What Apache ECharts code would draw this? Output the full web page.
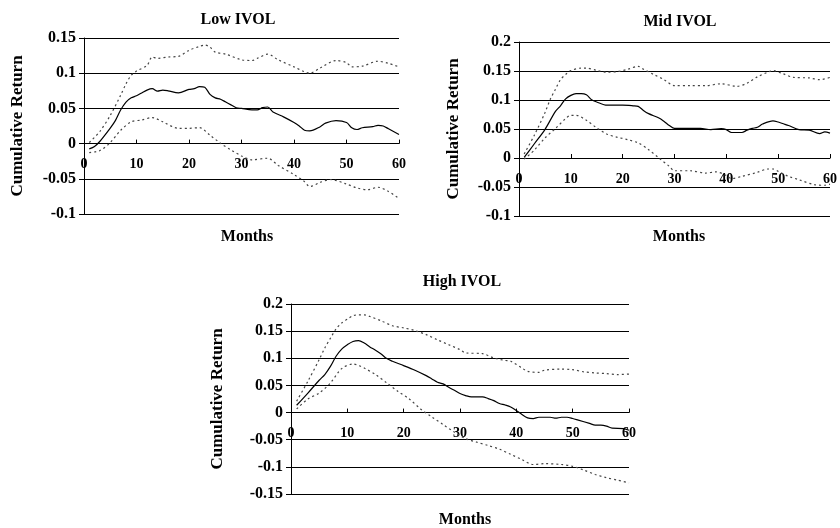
<!DOCTYPE html>
<html>
<head>
<meta charset="utf-8">
<script src="https://cdn.jsdelivr.net/npm/echarts@6/dist/echarts.min.js"></script>
<style>
  html, body { margin: 0; padding: 0; background: #fff; }
  #chart { width: 840px; height: 528px; }
</style>
</head>
<body>
<div id="chart"></div>
<script>
// cumulative return paths, [month, value]
const lowMid = [[1,-0.0075],[2,-0.004],[3,0.003],[5,0.022],[6,0.033],[7,0.048],[8,0.059],[9,0.065],[10,0.068],[11,0.072],[12,0.076],[13,0.078],[14,0.0745],[15,0.076],[16,0.075],[18,0.072],[20,0.077],[21,0.078],[22,0.081],[23,0.080],[24,0.070],[25,0.065],[26,0.063],[27,0.059],[28,0.055],[29,0.051],[30,0.050],[32,0.048],[33,0.048],[34,0.051],[35,0.052],[36,0.045],[38,0.038],[40,0.030],[41,0.025],[42,0.019],[43,0.018],[45,0.024],[46,0.029],[48,0.0325],[50,0.030],[51,0.0225],[52,0.020],[53,0.0225],[55,0.024],[56,0.026],[57,0.025],[58,0.021],[60,0.013]];
const lowUp = [[1,0.0015],[3,0.017],[5,0.040],[7,0.069],[8,0.085],[9,0.097],[10,0.103],[12,0.111],[13,0.123],[14,0.121],[16,0.123],[18,0.124],[20,0.1325],[22,0.138],[23,0.140],[24,0.137],[25,0.130],[27,0.127],[30,0.119],[32,0.118],[33,0.121],[35,0.127],[37,0.119],[40,0.109],[42,0.102],[43,0.100],[45,0.1075],[48,0.118],[50,0.115],[51,0.109],[53,0.110],[56,0.117],[58,0.114],[60,0.109]];
const lowDown = [[1,-0.0127],[3,-0.010],[5,0.0015],[7,0.019],[9,0.031],[11,0.0335],[13,0.037],[15,0.031],[18,0.0217],[20,0.0217],[22,0.0226],[24,0.012],[26,0.0005],[28,-0.009],[30,-0.0175],[32,-0.023],[35,-0.0208],[37,-0.031],[40,-0.044],[42,-0.054],[43,-0.061],[45,-0.055],[47,-0.051],[50,-0.0575],[52,-0.063],[54,-0.0655],[56,-0.062],[58,-0.068],[60,-0.078]];

const midMid = [[1,0.001],[3,0.025],[5,0.049],[7,0.080],[8,0.090],[9,0.102],[10,0.108],[11,0.111],[12,0.111],[13,0.109],[14,0.1006],[15,0.0966],[17,0.091],[20,0.091],[22,0.090],[23,0.089],[24,0.082],[25,0.0765],[27,0.069],[28,0.063],[29,0.056],[30,0.051],[32,0.051],[35,0.051],[37,0.049],[39,0.0506],[40,0.049],[41,0.044],[43,0.044],[44,0.048],[45,0.051],[46,0.053],[47,0.0586],[49,0.064],[50,0.062],[51,0.059],[52,0.056],[54,0.049],[56,0.048],[58,0.042],[59,0.045],[60,0.043]];
const midUp = [[1,0.007],[3,0.040],[5,0.078],[6,0.1006],[7,0.118],[8,0.135],[9,0.144],[10,0.1506],[12,0.155],[13,0.155],[15,0.151],[17,0.148],[19,0.149],[21,0.153],[23,0.158],[24,0.153],[26,0.144],[28,0.135],[30,0.1247],[33,0.1247],[36,0.1247],[39,0.128],[42,0.1236],[44,0.129],[46,0.140],[48,0.148],[49,0.1506],[51,0.145],[53,0.139],[56,0.138],[58,0.135],[60,0.139]];
const midDown = [[1,-0.002],[3,0.014],[5,0.0345],[7,0.0506],[9,0.068],[10,0.0736],[11,0.0736],[13,0.065],[15,0.052],[17,0.041],[19,0.0356],[21,0.0316],[23,0.026],[25,0.0144],[27,0],[29,-0.0144],[30,-0.022],[33,-0.022],[36,-0.026],[38,-0.024],[40,-0.030],[41,-0.0356],[43,-0.0316],[46,-0.0247],[48,-0.019],[49,-0.019],[50,-0.023],[52,-0.0316],[54,-0.0374],[57,-0.046],[59,-0.047],[60,-0.045]];

const highMid = [[1,0.0135],[3,0.036],[5,0.0595],[6,0.070],[7,0.085],[8,0.1037],[9,0.117],[10,0.125],[11,0.131],[12,0.1325],[13,0.128],[14,0.121],[15,0.115],[16,0.108],[17,0.0994],[18,0.0945],[20,0.0865],[22,0.078],[24,0.068],[25,0.062],[26,0.0558],[27,0.0528],[28,0.0466],[29,0.041],[30,0.035],[31,0.0313],[32,0.0288],[34,0.0288],[35,0.0258],[36,0.022],[37,0.0166],[38,0.014],[39,0.0104],[40,0.0037],[41,-0.0037],[42,-0.0098],[43,-0.011],[44,-0.0086],[46,-0.0086],[47,-0.0104],[48,-0.0086],[49,-0.0086],[50,-0.011],[51,-0.014],[53,-0.020],[54,-0.0233],[55,-0.0233],[56,-0.025],[57,-0.0288],[59,-0.0294],[60,-0.0325]];
const highUp = [[1,0.021],[3,0.0577],[5,0.0975],[6,0.119],[7,0.137],[8,0.154],[9,0.165],[10,0.172],[11,0.1785],[12,0.180],[13,0.180],[14,0.177],[16,0.169],[18,0.160],[20,0.156],[22,0.151],[24,0.1436],[26,0.134],[28,0.125],[30,0.116],[31,0.110],[34,0.1086],[36,0.1006],[38,0.096],[39,0.0945],[41,0.082],[42,0.076],[44,0.074],[45,0.078],[48,0.080],[50,0.079],[52,0.075],[54,0.073],[56,0.0718],[58,0.070],[60,0.071]];
const highDown = [[1,0.0067],[3,0.025],[5,0.036],[7,0.0546],[9,0.081],[11,0.0896],[12,0.0865],[13,0.082],[15,0.070],[17,0.0546],[19,0.039],[21,0.025],[23,0.0067],[25,-0.008],[27,-0.022],[29,-0.036],[31,-0.048],[33,-0.0546],[35,-0.0607],[37,-0.0675],[39,-0.077],[41,-0.0865],[43,-0.0957],[45,-0.094],[48,-0.0957],[50,-0.099],[52,-0.106],[54,-0.114],[56,-0.120],[58,-0.1245],[60,-0.1295]];

const panelTitles = ["Low IVOL", "Mid IVOL", "High IVOL"];
const yRanges = [[-0.1, 0.15], [-0.1, 0.2], [-0.15, 0.2]];
const monthTicks = [0, 10, 20, 30, 40, 50, 60];

const font = "'Liberation Serif', 'Times New Roman', serif";
const grids = [
    { left: 84, top: 38, width: 315, height: 176 },
    { left: 519, top: 42, width: 312, height: 174 },
    { left: 291, top: 304, width: 338, height: 190 }
];
const titlePos = [[233, 7], [675, 9], [457, 269]];
const monthsPos = [[242, 224], [674, 224], [460, 507]];
const yNameGap = [58, 57, 65];

const titles = [];
panelTitles.forEach((t, i) => {
    titles.push({
        text: t, left: titlePos[i][0], top: titlePos[i][1], textAlign: "center",
        textStyle: { fontFamily: font, fontWeight: "bold", fontSize: 16, color: "#000" }
    });
    titles.push({
        text: "Months", left: monthsPos[i][0], top: monthsPos[i][1], textAlign: "center",
        textStyle: { fontFamily: font, fontWeight: "bold", fontSize: 16, color: "#000" }
    });
});

// x axis sits on the zero line: shift it up from the grid bottom by the zero position
const xAxes = grids.map((g, i) => ({
    type: "value", gridIndex: i, min: 0, max: 60, interval: 10,
    position: "bottom",
    offset: -g.height * (0 - yRanges[i][0]) / (yRanges[i][1] - yRanges[i][0]),
    axisLine: { onZero: false, lineStyle: { color: "#000", width: 1 } },
    axisTick: { inside: true, length: 4, lineStyle: { color: "#000" } },
    axisLabel: {
        margin: 14, fontFamily: font, fontWeight: "bold", fontSize: 14, color: "#000",
        formatter: v => monthTicks.includes(v) ? String(v) : ""
    },
    splitLine: { show: false }
}));

const yAxes = grids.map((g, i) => ({
    type: "value", gridIndex: i, min: yRanges[i][0], max: yRanges[i][1], interval: 0.05,
    name: "Cumulative Return", nameLocation: "middle", nameGap: yNameGap[i],
    nameTextStyle: { fontFamily: font, fontWeight: "bold", fontSize: 17, color: "#000" },
    axisLine: { show: true, onZero: false, lineStyle: { color: "#000", width: 1 } },
    axisTick: { show: true, length: 5, lineStyle: { color: "#000" } },
    axisLabel: {
        margin: 8, fontFamily: font, fontWeight: "bold", fontSize: 16, color: "#000",
        formatter: v => String(parseFloat(v.toFixed(2)))
    },
    splitLine: { show: true, lineStyle: { color: "#000", width: 1 } }
}));

const line = (data, i, dotted) => ({
    type: "line", xAxisIndex: i, yAxisIndex: i, data,
    symbol: "none", smooth: 0.3,
    lineStyle: dotted
        ? { color: "#444", width: 1.2, type: [2, 3] }
        : { color: "#000", width: 1.2 }
});

const option = {
    animation: false,
    backgroundColor: "#fff",
    title: titles,
    grid: grids,
    xAxis: xAxes,
    yAxis: yAxes,
    series: [
        line(lowUp, 0, true), line(lowMid, 0, false), line(lowDown, 0, true),
        line(midUp, 1, true), line(midMid, 1, false), line(midDown, 1, true),
        line(highUp, 2, true), line(highMid, 2, false), line(highDown, 2, true)
    ]
};

const myChart = echarts.init(document.getElementById("chart"));
myChart.setOption(option);
</script>
</body>
</html>
